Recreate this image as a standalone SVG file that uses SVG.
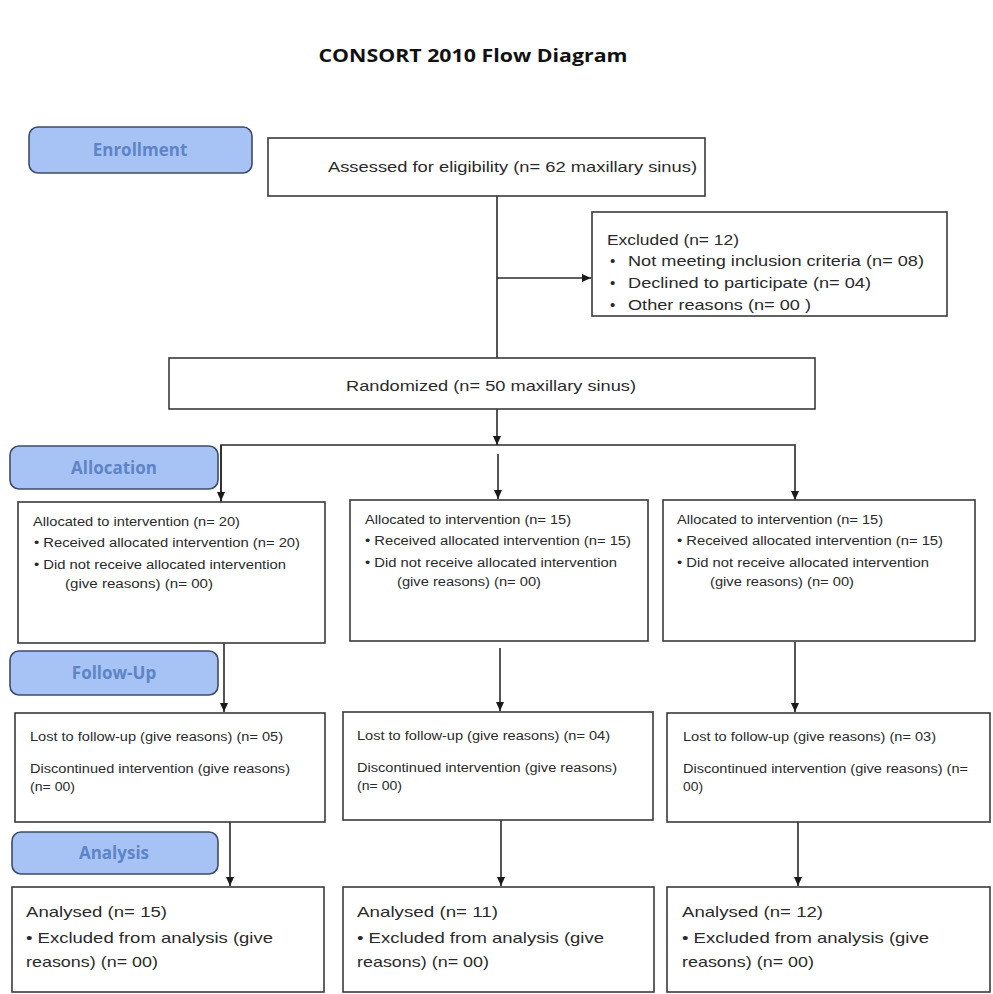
<svg xmlns="http://www.w3.org/2000/svg" width="993" height="994" viewBox="0 0 993 994">
<style>
.box{fill:#fff;stroke:#3a3a3a;stroke-width:1.6}
.pill{fill:#a7c3f6;stroke:#3f4b66;stroke-width:1.6}
.pt{font-family:"Open Sans","Liberation Sans",sans-serif;font-weight:bold;font-size:17px;fill:#5e84c6;text-anchor:middle}
.t{font-family:"Liberation Sans",Arial,sans-serif;fill:#2a2a2a}
.m{font-size:15px}
.s{font-size:12px}
.c{stroke:#2a2a2a;stroke-width:1.6;fill:none}
</style>
<defs>
<marker id="ah" markerWidth="10" markerHeight="10" refX="9" refY="5" orient="auto" markerUnits="userSpaceOnUse">
<path d="M0,1 L9,5 L0,9 Z" fill="#1a1a1a"/>
</marker>
</defs>
<rect width="993" height="994" fill="#fff"/>
<text x="473" y="62" font-family="Open Sans, Liberation Sans, sans-serif" font-weight="bold" font-size="17" fill="#111" text-anchor="middle" textLength="309" lengthAdjust="spacingAndGlyphs">CONSORT 2010 Flow Diagram</text>

<g id="connectors">
<line class="c" x1="497" y1="196" x2="497" y2="358"/>
<line class="c" x1="497" y1="278" x2="591" y2="278" marker-end="url(#ah)"/>
<line class="c" x1="497" y1="409" x2="497" y2="445" marker-end="url(#ah)"/>
<polyline class="c" points="221,502 221,445 795,445 795,500" marker-end="url(#ah)"/>
<line class="c" x1="221" y1="445" x2="221" y2="501" marker-end="url(#ah)"/>
<line class="c" x1="498" y1="454" x2="498" y2="499" marker-end="url(#ah)"/>
<line class="c" x1="224" y1="643" x2="224" y2="712" marker-end="url(#ah)"/>
<line class="c" x1="500" y1="648" x2="500" y2="711" marker-end="url(#ah)"/>
<line class="c" x1="795" y1="642" x2="795" y2="712" marker-end="url(#ah)"/>
<line class="c" x1="230" y1="822" x2="230" y2="886" marker-end="url(#ah)"/>
<line class="c" x1="501" y1="820" x2="501" y2="886" marker-end="url(#ah)"/>
<line class="c" x1="798" y1="822" x2="798" y2="886" marker-end="url(#ah)"/>
</g>

<g id="enrollment">
<rect class="pill" x="29" y="127" width="223" height="46" rx="9"/>
<text class="pt" x="140" y="156">Enrollment</text>
</g>
<g id="allocation-label">
<rect class="pill" x="10" y="446" width="208" height="43" rx="9"/>
<text class="pt" x="114" y="474">Allocation</text>
</g>
<g id="followup-label">
<rect class="pill" x="10" y="651" width="208" height="44" rx="9"/>
<text class="pt" x="114" y="679">Follow-Up</text>
</g>
<g id="analysis-label">
<rect class="pill" x="12" y="832" width="206" height="42" rx="9"/>
<text class="pt" x="114" y="859">Analysis</text>
</g>

<g id="assessed">
<rect class="box" x="268" y="138" width="437" height="58"/>
<text class="t m" x="328" y="172" textLength="369" lengthAdjust="spacingAndGlyphs">Assessed for eligibility (n= 62 maxillary sinus)</text>
</g>

<g id="excluded">
<rect class="box" x="592" y="212" width="355" height="104"/>
<text class="t m" x="607" y="245" textLength="132" lengthAdjust="spacingAndGlyphs">Excluded  (n= 12)</text>
<text class="t m" x="610" y="266">•</text>
<text class="t m" x="628" y="266" textLength="296" lengthAdjust="spacingAndGlyphs">Not meeting inclusion criteria (n= 08)</text>
<text class="t m" x="610" y="288">•</text>
<text class="t m" x="628" y="288" textLength="243" lengthAdjust="spacingAndGlyphs">Declined to participate (n= 04)</text>
<text class="t m" x="610" y="310">•</text>
<text class="t m" x="628" y="310" textLength="183" lengthAdjust="spacingAndGlyphs">Other reasons (n= 00 )</text>
</g>

<g id="randomized">
<rect class="box" x="169" y="358" width="646" height="51"/>
<text class="t m" x="346" y="391" textLength="290" lengthAdjust="spacingAndGlyphs">Randomized (n= 50 maxillary sinus)</text>
</g>

<g id="alloc1">
<rect class="box" x="18" y="502" width="307" height="141"/>
<text class="t s" x="33" y="526" textLength="207" lengthAdjust="spacingAndGlyphs">Allocated to intervention (n= 20)</text>
<text class="t s" x="34" y="547" textLength="266" lengthAdjust="spacingAndGlyphs">• Received allocated intervention (n= 20)</text>
<text class="t s" x="34" y="569" textLength="252" lengthAdjust="spacingAndGlyphs">• Did not receive allocated intervention</text>
<text class="t s" x="65" y="588" textLength="148" lengthAdjust="spacingAndGlyphs">(give reasons) (n= 00)</text>
</g>
<g id="alloc2">
<rect class="box" x="350" y="500" width="298" height="141"/>
<text class="t s" x="365" y="524" textLength="206" lengthAdjust="spacingAndGlyphs">Allocated to intervention (n= 15)</text>
<text class="t s" x="365" y="545" textLength="266" lengthAdjust="spacingAndGlyphs">• Received allocated intervention (n= 15)</text>
<text class="t s" x="365" y="567" textLength="252" lengthAdjust="spacingAndGlyphs">• Did not receive allocated intervention</text>
<text class="t s" x="397" y="586" textLength="144" lengthAdjust="spacingAndGlyphs">(give reasons) (n= 00)</text>
</g>
<g id="alloc3">
<rect class="box" x="663" y="500" width="312" height="141"/>
<text class="t s" x="677" y="524" textLength="206" lengthAdjust="spacingAndGlyphs">Allocated to intervention (n= 15)</text>
<text class="t s" x="677" y="545" textLength="266" lengthAdjust="spacingAndGlyphs">• Received allocated intervention (n= 15)</text>
<text class="t s" x="677" y="567" textLength="252" lengthAdjust="spacingAndGlyphs">• Did not receive allocated intervention</text>
<text class="t s" x="710" y="586" textLength="144" lengthAdjust="spacingAndGlyphs">(give reasons) (n= 00)</text>
</g>

<g id="follow1">
<rect class="box" x="15" y="713" width="310" height="109"/>
<text class="t s" x="30" y="741" textLength="253" lengthAdjust="spacingAndGlyphs">Lost to follow-up (give reasons) (n= 05)</text>
<text class="t s" x="30" y="773" textLength="260" lengthAdjust="spacingAndGlyphs">Discontinued intervention (give reasons)</text>
<text class="t s" x="30" y="791" textLength="45" lengthAdjust="spacingAndGlyphs">(n= 00)</text>
</g>
<g id="follow2">
<rect class="box" x="343" y="712" width="310" height="108"/>
<text class="t s" x="357" y="740" textLength="253" lengthAdjust="spacingAndGlyphs">Lost to follow-up (give reasons) (n= 04)</text>
<text class="t s" x="357" y="772" textLength="260" lengthAdjust="spacingAndGlyphs">Discontinued intervention (give reasons)</text>
<text class="t s" x="357" y="790" textLength="45" lengthAdjust="spacingAndGlyphs">(n= 00)</text>
</g>
<g id="follow3">
<rect class="box" x="667" y="713" width="323" height="109"/>
<text class="t s" x="683" y="741" textLength="253" lengthAdjust="spacingAndGlyphs">Lost to follow-up (give reasons) (n= 03)</text>
<text class="t s" x="683" y="773" textLength="285" lengthAdjust="spacingAndGlyphs">Discontinued intervention (give reasons) (n=</text>
<text class="t s" x="683" y="791" textLength="20" lengthAdjust="spacingAndGlyphs">00)</text>
</g>

<g id="analysis1">
<rect class="box" x="12" y="887" width="312" height="105"/>
<text class="t m" x="26" y="917" textLength="141" lengthAdjust="spacingAndGlyphs">Analysed  (n= 15)</text>
<text class="t m" x="26" y="943" textLength="247" lengthAdjust="spacingAndGlyphs">• Excluded from analysis (give</text>
<text class="t m" x="26" y="967" textLength="132" lengthAdjust="spacingAndGlyphs">reasons) (n= 00)</text>
</g>
<g id="analysis2">
<rect class="box" x="343" y="887" width="311" height="105"/>
<text class="t m" x="357" y="917" textLength="141" lengthAdjust="spacingAndGlyphs">Analysed  (n= 11)</text>
<text class="t m" x="357" y="943" textLength="247" lengthAdjust="spacingAndGlyphs">• Excluded from analysis (give</text>
<text class="t m" x="357" y="967" textLength="132" lengthAdjust="spacingAndGlyphs">reasons) (n= 00)</text>
</g>
<g id="analysis3">
<rect class="box" x="667" y="887" width="323" height="105"/>
<text class="t m" x="682" y="917" textLength="141" lengthAdjust="spacingAndGlyphs">Analysed  (n= 12)</text>
<text class="t m" x="682" y="943" textLength="247" lengthAdjust="spacingAndGlyphs">• Excluded from analysis (give</text>
<text class="t m" x="682" y="967" textLength="132" lengthAdjust="spacingAndGlyphs">reasons) (n= 00)</text>
</g>
</svg>
